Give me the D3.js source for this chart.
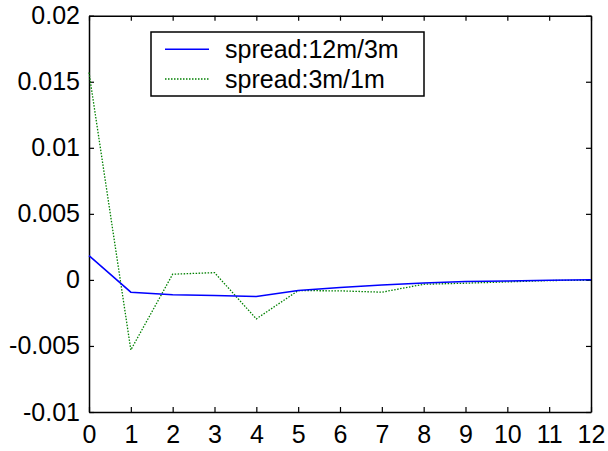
<!DOCTYPE html>
<html><head><meta charset="utf-8">
<script src="https://cdn.jsdelivr.net/npm/d3@7"></script>
<style>body{margin:0;background:#fff}svg{display:block}text{font-family:Arial,"Liberation Sans",Helvetica,sans-serif}</style>
</head><body>
<script>
const horizons = [0,1,2,3,4,5,6,7,8,9,10,11,12];
const spread12m3m = [0.00184,-0.00093,-0.00113,-0.00118,-0.00126,-0.00081,-0.00058,-0.00038,-0.00023,-0.00013,-0.00008,-0.00002,0.00001];
const spread3m1m = [0.0157,-0.0053,0.00043,0.00055,-0.00295,-0.00081,-0.00083,-0.00093,-0.00033,-0.00025,-0.00015,-0.00005,-0.00002];
const seriesNames = ["spread:12m/3m","spread:3m/1m"];
const yTicks = [-0.01,-0.005,0,0.005,0.01,0.015,0.02];
const yTickLabels = ["-0.01","-0.005","0","0.005","0.01","0.015","0.02"];

const W=608,H=451;
const m={l:89,t:15.7,r:591,b:412};
const svg=d3.select("body").append("svg").attr("width",W).attr("height",H);
const x=d3.scaleLinear().domain([0,12]).range([m.l,m.r]);
const y=d3.scaleLinear().domain([-0.01,0.02]).range([m.b,m.t]);
const fs=25;

// axes
const gB=svg.append("g").attr("transform",`translate(0,${m.b})`)
 .call(d3.axisBottom(x).tickValues(horizons).tickFormat(d3.format("d")).tickSizeInner(-5).tickSizeOuter(0).tickPadding(13));
const gT=svg.append("g").attr("transform",`translate(0,${m.t})`)
 .call(d3.axisTop(x).tickValues(horizons).tickFormat("").tickSizeInner(-5).tickSizeOuter(0));
const gL=svg.append("g").attr("transform",`translate(${m.l},0)`)
 .call(d3.axisLeft(y).tickValues(yTicks).tickFormat((d,i)=>yTickLabels[i]).tickSizeInner(-5).tickSizeOuter(0).tickPadding(9));
const gR=svg.append("g").attr("transform",`translate(${m.r},0)`)
 .call(d3.axisRight(y).tickValues(yTicks).tickFormat("").tickSizeInner(-5).tickSizeOuter(0));
[gB,gT,gL,gR].forEach(g=>{
  g.selectAll(".domain").attr("stroke","#000").attr("stroke-width",1.5);
  g.selectAll(".tick line").attr("stroke","#000").attr("stroke-width",1.2);
  g.selectAll("text").attr("font-size",fs).attr("fill","#000").attr("font-family","Arial, 'Liberation Sans', sans-serif");
});
gB.selectAll("text").attr("dy","0.71em");

const line=d3.line().x((d,i)=>x(horizons[i])).y(d=>y(d));
svg.append("path").datum(spread3m1m).attr("d",line).attr("fill","none").attr("stroke","#008000").attr("stroke-width",1.3).attr("stroke-dasharray","1.5,1.5");
svg.append("path").datum(spread12m3m).attr("d",line).attr("fill","none").attr("stroke","#0000ff").attr("stroke-width",1.5);

// legend
const lg=svg.append("g");
lg.append("rect").attr("x",151).attr("y",32).attr("width",273).attr("height",64).attr("fill","#fff").attr("stroke","#000").attr("stroke-width",1.5);
const styles=[{c:"#0000ff",d:null,w:1.5},{c:"#008000",d:"1.5,1.5",w:1.3}];
[49.3,79].forEach((ly,i)=>{
  lg.append("line").attr("x1",165).attr("x2",209).attr("y1",ly).attr("y2",ly).attr("stroke",styles[i].c).attr("stroke-width",styles[i].w).attr("stroke-dasharray",styles[i].d);
  lg.append("text").attr("x",225).attr("y",ly).attr("dy","0.35em").attr("font-size",fs).text(seriesNames[i]);
});
</script>
</body></html>
